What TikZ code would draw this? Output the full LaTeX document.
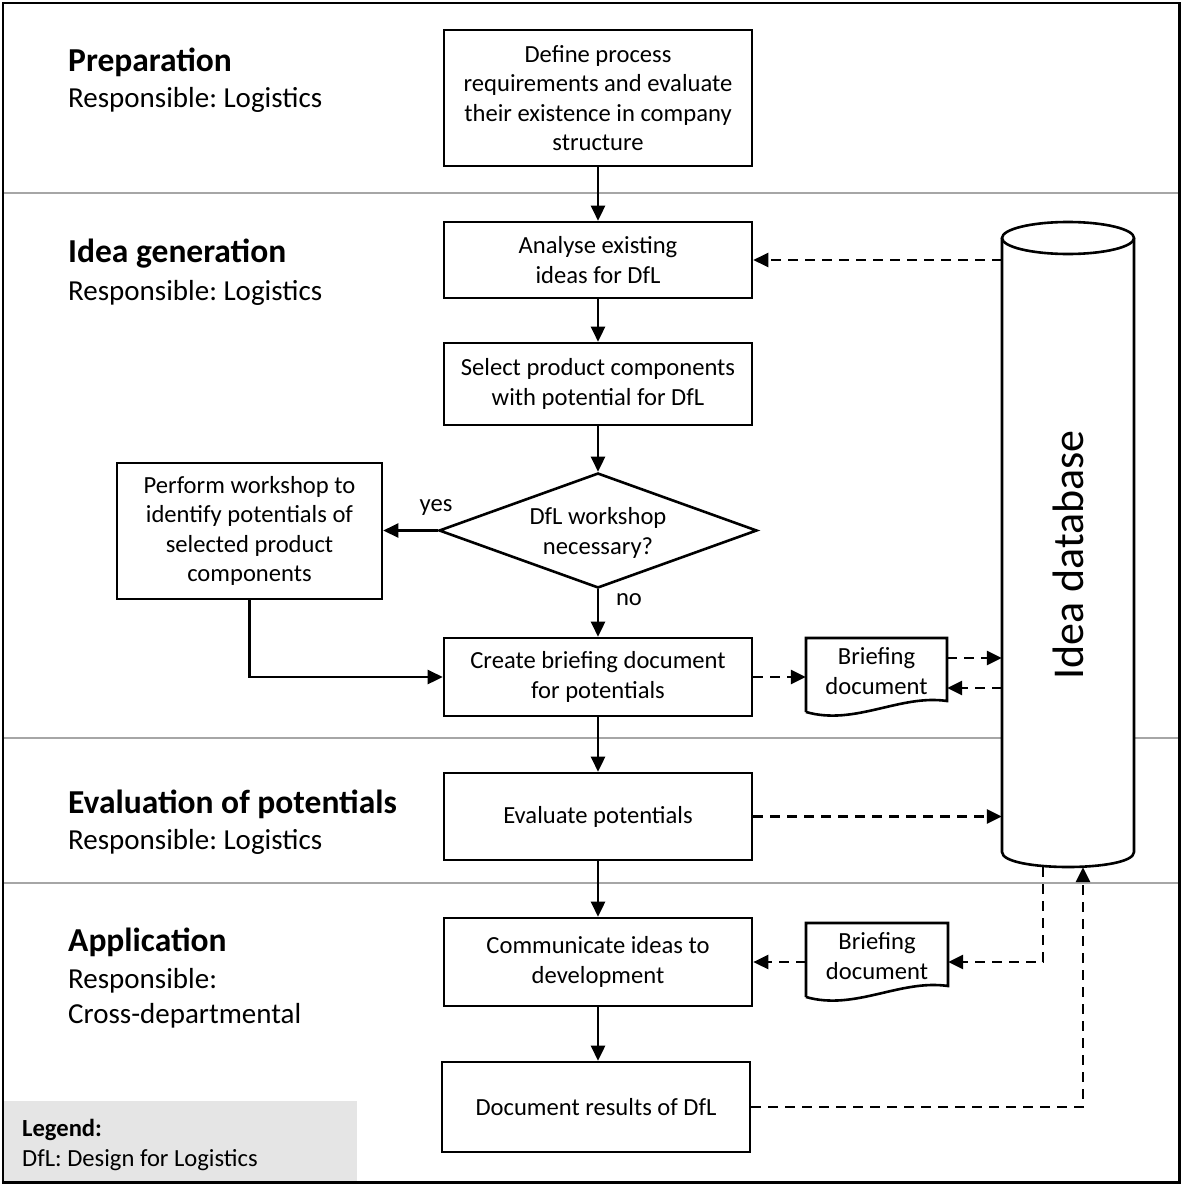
\documentclass[tikz,border=0pt]{standalone}
\usepackage{fontspec}
\setmainfont{Carlito}
\usetikzlibrary{arrows.meta,calc,shapes.geometric}
\frenchspacing
\newcommand\bxfont{\fontsize{24.6}{29.5}\selectfont}
\newcommand\hdfont{\fontsize{33.5}{40}\selectfont\bfseries}
\newcommand\sbfont{\fontsize{29}{36}\selectfont}
\newcommand\dbfont{\fontsize{44}{52}\selectfont}
\begin{document}
\frenchspacing
\begin{tikzpicture}[x=1pt,y=-1pt,
  box/.style={draw, line width=2.6pt, fill=white, minimum width=308pt, align=center, inner sep=0pt, font=\bxfont},
  lbl/.style={inner sep=0pt, font=\bxfont, align=center},
  head/.style={anchor=base west, inner sep=0pt, font=\hdfont},
  sub/.style={anchor=base west, inner sep=0pt, font=\sbfont},
  arr/.style={line width=2.6pt, -{Triangle[length=15pt,width=14pt]}},
  darr/.style={line width=2.6pt, dash pattern=on 10pt off 7pt, -{Triangle[length=15pt,width=14pt]}},
  sep/.style={draw=black!35, line width=1.4pt},
  outline/.style={draw, line width=2.6pt, fill=white}
]
\useasboundingbox (0,0) rectangle (1182,1185);
% legend background
\fill[black!10] (4,1101) rectangle (357,1182);
% separators
\draw[sep] (4,193) -- (1180,193);
\draw[sep] (4,738) -- (1180,738);
\draw[sep] (4,883) -- (1180,883);
% frame
\draw[line width=2.8pt] (3,3) rectangle (1179.5,1182.5);

% phase labels
\node[head] (h1) at (68,72) {Preparation};
\node[sub] (s1) at (68,108) {Responsible: Logistics};
\node[head] (h2) at (68,262) {Idea generation};
\node[sub] (s2) at (68,300) {Responsible: Logistics};
\node[head] (h3) at (68,813) {Evaluation of potentials};
\node[sub] (s3) at (68,849) {Responsible: Logistics};
\node[head] (h4) at (68,951) {Application};
\node[sub] (s4a) at (68,988) {Responsible:};
\node[sub] (s4b) at (68,1023) {Cross-departmental};

% legend text
\node[anchor=base west, inner sep=0pt, font=\bxfont\bfseries] (lg1) at (22,1136) {Legend:};
\node[anchor=base west, inner sep=0pt, font=\bxfont] (lg2) at (22,1166) {DfL: Design for Logistics};

% database cylinder
\node[minimum width=132pt, minimum height=645pt, inner sep=0pt] (db) at (1068,544.5) {};
\fill[white] (1002,238) -- (1002,852) .. controls (1002,872) and (1134,872) .. (1134,852) -- (1134,238) -- cycle;
\draw[line width=2.6pt] (1002,238) -- (1002,852) .. controls (1002,872) and (1134,872) .. (1134,852) -- (1134,238);
\draw[line width=2.6pt, fill=white] (1068,238) ellipse [x radius=66pt, y radius=16pt];
\node[rotate=90, inner sep=0pt, font=\dbfont] (dbt) at (1068,555) {Idea database};

% process boxes
\node[box, minimum height=136pt] (def) at (598,98) {Define process\\requirements and evaluate\\their existence in company\\structure};
\node[box, minimum height=76pt] (ana) at (598,260) {Analyse existing\\ideas for DfL};
\node[box, minimum height=82pt] (sel) at (598,384) {Select product components\\with potential for DfL};
\node[draw, diamond, line width=2.6pt, fill=white, minimum width=318pt, minimum height=115pt, inner sep=0pt] (dec) at (598,530.5) {};
\node[lbl] (dect) at (598,533) {DfL workshop\\necessary?};
\node[box, minimum width=265pt, minimum height=136pt] (perf) at (249.5,531) {Perform workshop to\\identify potentials of\\selected product\\components};
\node[box, minimum height=78pt] (cre) at (598,677) {Create briefing document\\for potentials};
\node[box, minimum height=87pt] (eva) at (598,816.5) {Evaluate potentials};
\node[box, minimum height=88pt] (com) at (598,962) {Communicate ideas to\\development};
\node[box, minimum height=90pt] (doc) at (596,1107) {Document results of DfL};

% briefing documents
\draw[outline] (806,712) -- (806,638) -- (947,638) -- (947,701) .. controls (900,694) and (855,726) .. (806,712);
\node[lbl, minimum width=141pt, minimum height=64pt] (b1) at (876.5,671) {Briefing\\document};
\draw[outline] (806,997) -- (806,923) -- (948,923) -- (948,986) .. controls (900,979) and (855,1011) .. (806,997);
\node[lbl, minimum width=142pt, minimum height=64pt] (b2) at (877,956) {Briefing\\document};

% helper coordinates
\coordinate (y658) at (0,658);
\coordinate (y688) at (0,688);
\coordinate (x1043) at (1043,0);
\coordinate (x1083) at (1083,0);

% solid flow
\draw[arr] (def.south) -- (ana.north);
\draw[arr] (ana.south) -- (sel.north);
\draw[arr] (sel.south) -- (dec.north);
\draw[arr] (dec.south) -- (cre.north);
\draw[arr] (dec.west) -- (dec.west -| perf.east);
\draw[arr] (perf.south) |- (cre.west);
\draw[arr] (cre.south) -- (eva.north);
\draw[arr] (eva.south) -- (com.north);
\draw[arr] (com.south) -- (com.south |- doc.north);
\node[lbl] (yes) at (436,508) {yes};
\node[lbl] (no) at (629,600) {no};

% dashed information flow
\draw[darr] (db.west |- ana.east) -- (ana.east);
\draw[darr] (cre.east) -- (cre.east -| b1.west);
\draw[darr] (b1.east |- y658) -- (db.west |- y658);
\draw[darr] (db.west |- y688) -- (b1.east |- y688);
\draw[darr] (eva.east) -- (eva.east -| db.west);
\draw[darr] (db.south -| x1043) |- (b2.east |- com.east);
\draw[darr] (b2.west |- com.east) -- (com.east);
\draw[darr] (doc.east) -| (db.south -| x1083);
\end{tikzpicture}
\end{document}
